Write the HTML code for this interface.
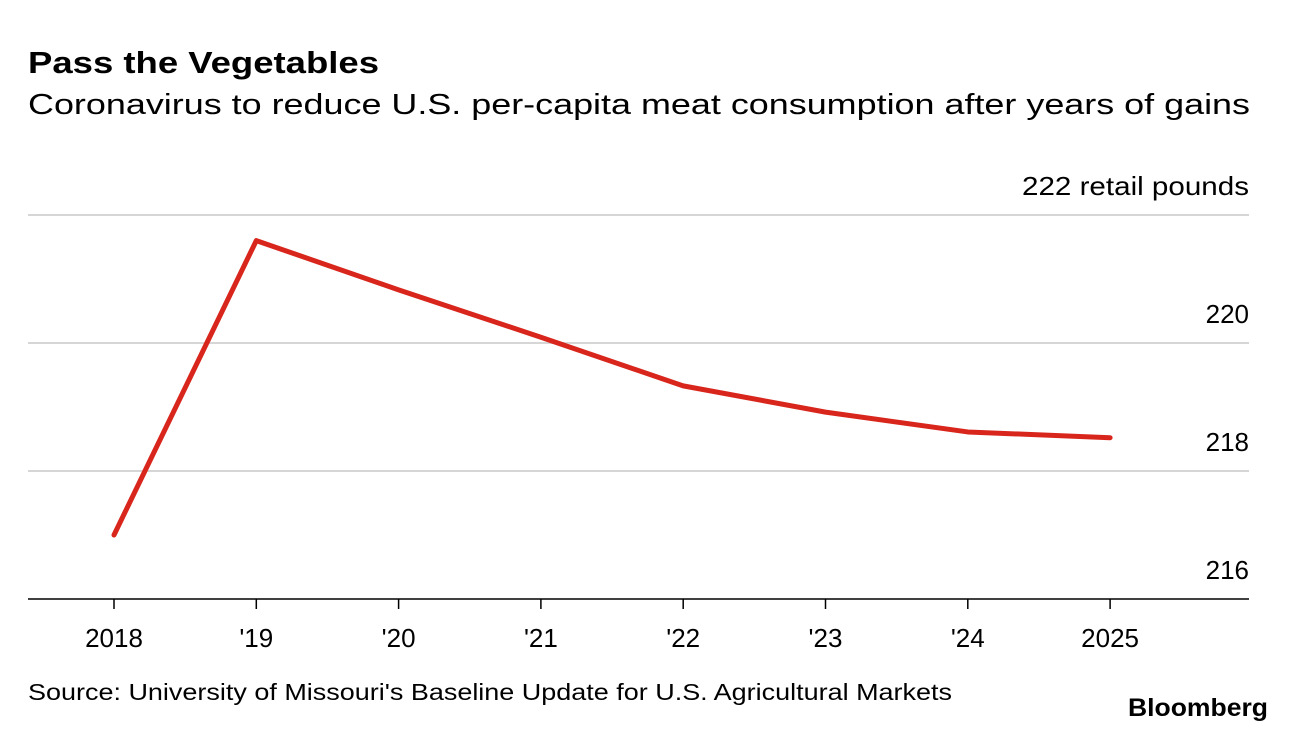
<!DOCTYPE html>
<html><head><meta charset="utf-8"><style>
body{margin:0;background:#fff;width:1296px;height:732px;overflow:hidden;font-family:"Liberation Sans",Arial,sans-serif;}
</style></head><body>
<svg width="1296" height="732" xmlns="http://www.w3.org/2000/svg">
<text x="28" y="73" font-size="31" font-weight="bold" fill="#000" textLength="351" lengthAdjust="spacingAndGlyphs">Pass the Vegetables</text>
<text x="28" y="114" font-size="29" fill="#000" textLength="1222" lengthAdjust="spacingAndGlyphs">Coronavirus to reduce U.S. per-capita meat consumption after years of gains</text>
<g id="grid"></g>
<g id="xaxis"></g>
<g id="series"></g>
<text x="28" y="700" font-size="23" fill="#000" textLength="924" lengthAdjust="spacingAndGlyphs">Source: University of Missouri's Baseline Update for U.S. Agricultural Markets</text>
<text x="1128" y="716" font-size="25" font-weight="bold" fill="#000" textLength="140" lengthAdjust="spacingAndGlyphs">Bloomberg</text>
</svg>
<script>
const categories=["2018","'19","'20","'21","'22","'23","'24","2025"];
const values=[217.0,221.6,220.83,220.09,219.33,218.92,218.61,218.52];
const yTicks=[216,218,220,222];
const yTickLabels=["216","218","220","222 retail pounds"];
const NS="http://www.w3.org/2000/svg";
const y=v=>599-(v-216)*64;
const x=i=>114+i*142.3;
function mk(tag,attrs,parent){const e=document.createElementNS(NS,tag);for(const k in attrs)e.setAttribute(k,attrs[k]);parent.appendChild(e);return e;}
const grid=document.getElementById('grid');
yTicks.forEach((t,i)=>{
  if(i>0){const l=mk('line',{x1:28,x2:1249,y1:y(t),y2:y(t),stroke:'#d6d6d6','stroke-width':2},grid);
  
  }
  const tx=mk('text',{x:1249,y:y(t)-20,'font-size':26,'text-anchor':'end',fill:'#000'},grid);
  tx.textContent=yTickLabels[i];
  if(i===3){tx.setAttribute('textLength',227);tx.setAttribute('lengthAdjust','spacingAndGlyphs');}
  
  
});
const xa=document.getElementById('xaxis');
const base=mk('line',{x1:28,x2:1249,y1:599,y2:599,stroke:'#000','stroke-width':1.5},xa);


categories.forEach((c,i)=>{
  const tk=mk('line',{x1:x(i),x2:x(i),y1:599,y2:609,stroke:'#000','stroke-width':1.5},xa);
  
  
  const t=mk('text',{x:x(i),y:647,'font-size':26,'text-anchor':'middle',fill:'#000'},xa);
  t.textContent=c;
  
  
});
const s=document.getElementById('series');
const p=mk('polyline',{points:values.map((v,i)=>x(i)+','+y(v)).join(' '),fill:'none',stroke:'#d9261c','stroke-width':5,'stroke-linejoin':'round','stroke-linecap':'round'},s);


</script>
</body></html>
